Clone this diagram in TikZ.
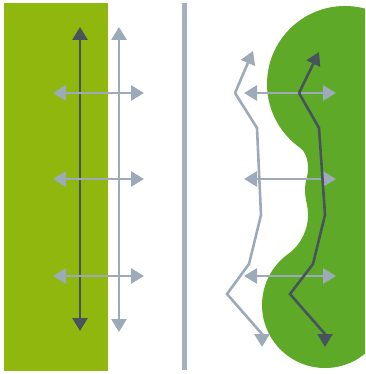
\documentclass[tikz,border=0pt]{standalone}
\usetikzlibrary{arrows.meta}
\definecolor{olivegreen}{RGB}{143,183,14}
\definecolor{blobgreen}{RGB}{94,170,40}
\definecolor{grayarr}{RGB}{156,170,186}
\definecolor{darkarr}{RGB}{72,84,92}
\definecolor{barcol}{RGB}{163,177,193}
\tikzset{
  tipd/.tip={Triangle[length=13pt,width=15pt]},
  garrow/.style={draw=grayarr,line width=2.8pt,{tipd}-{tipd}},
  gsingle/.style={draw=grayarr,line width=2.6pt,-{tipd},line join=miter},
  dsingle/.style={draw=darkarr,line width=2.6pt,-{tipd},line join=miter},
  dvert/.style={draw=darkarr,line width=2.8pt,{tipd}-{tipd}},
}
\begin{document}
\begin{tikzpicture}[x=1pt,y=-1pt]
\useasboundingbox (0,0) rectangle (365,374);
% left green block
\fill[olivegreen] (4,3) rectangle (108,371);
% middle bar
\fill[barcol] (181.5,3) rectangle (186.5,370);
% right blob
\begin{scope}
\clip (0,0) rectangle (365,374);
\fill[blobgreen] (300.3,147.9)
  .. controls (304.4,150.8) and (308,158) .. (308,168)
  .. controls (308,178) and (305,180) .. (305,190)
  .. controls (305,200) and (308,205) .. (308,215)
  .. controls (308,232) and (298.7,246.5) .. (288.9,253.4)
  arc[start angle=235,end angle=-30,radius=63]
  -- (423,84)
  arc[start angle=0,end angle=-235,radius=78] -- cycle;
\end{scope}
% left arrows
\coordinate (dTop) at (80,27);
\coordinate (dBot) at (80,331);
\coordinate (gTop) at (119,27);
\coordinate (gBot) at (119,332);
\draw[dvert] (dTop) -- (dBot);
\draw[garrow] (gTop) -- (gBot);
\coordinate (l1a) at (53,93);  \coordinate (l1b) at (144,93);
\coordinate (l2a) at (53,179); \coordinate (l2b) at (144,179);
\coordinate (l3a) at (53,276); \coordinate (l3b) at (144,276);
\draw[garrow] (l1a) -- (l1b);
\draw[garrow] (l2a) -- (l2b);
\draw[garrow] (l3a) -- (l3b);
% right horizontal arrows
\coordinate (r1a) at (244,93);  \coordinate (r1b) at (336,93);
\coordinate (r2a) at (244,179); \coordinate (r2b) at (336,179);
\coordinate (r3a) at (244,276); \coordinate (r3b) at (336,276);
\draw[garrow] (r1a) -- (r1b);
\draw[garrow] (r2a) -- (r2b);
\draw[garrow] (r3a) -- (r3b);
% gray zigzag
\coordinate (gz0) at (262,347);
\coordinate (gz1) at (262,334);
\coordinate (gz2) at (227,294);
\coordinate (gz3) at (249,264);
\coordinate (gz4) at (261,215);
\coordinate (gz5) at (257,128);
\coordinate (gz6) at (235,93);
\coordinate (gz7) at (253,51);
\draw[gsingle] (gz6) -- (gz7);
\draw[gsingle] (gz6) -- (gz5) -- (gz4) -- (gz3) -- (gz2) -- (gz1) -- (gz0);
% dark zigzag
\coordinate (dz0) at (325,347);
\coordinate (dz1) at (325,334);
\coordinate (dz2) at (290,294);
\coordinate (dz3) at (313,264);
\coordinate (dz4) at (325,215);
\coordinate (dz5) at (319,128);
\coordinate (dz6) at (299,93);
\coordinate (dz7) at (319,52);
\draw[dsingle] (dz6) -- (dz7);
\draw[dsingle] (dz6) -- (dz5) -- (dz4) -- (dz3) -- (dz2) -- (dz1) -- (dz0);
\end{tikzpicture}
\end{document}
